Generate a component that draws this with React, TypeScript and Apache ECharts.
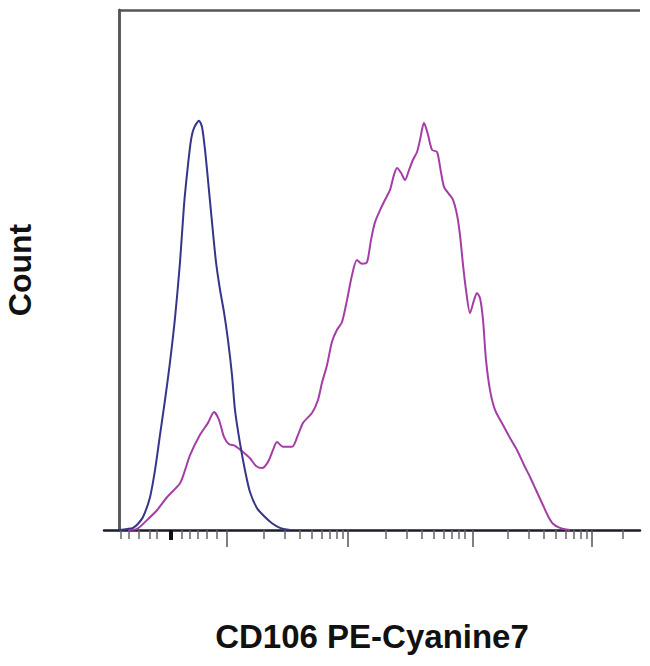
import React, { useEffect, useRef } from "react";
import * as echarts from "echarts";

// Isotype control histogram (channel position, relative count)
const isotypeChannel = [0, 15.4, 26.9, 36.5, 46.1, 59.5, 69.1, 78.7, 88.3, 97.9, 107.5, 117.1, 124.8, 132.4, 138.2, 143.9, 153.6, 159.3, 165.1, 170.8, 178.5, 186.2, 193.9, 201.5, 209.2, 216.9, 222.6, 232.2, 241.8, 251.4, 264.9, 280.2, 293.7, 309.0, 328.2];
const isotypeCount = [0, 0.2, 0.4, 1.2, 2.5, 6.3, 11.5, 18.3, 25.0, 32.3, 40.8, 51.5, 62.5, 70.2, 75.0, 77.3, 78.7, 77.5, 73.1, 67.3, 59.2, 51.5, 46.2, 41.9, 36.5, 29.8, 23.1, 16.7, 11.5, 7.3, 4.2, 2.5, 1.3, 0.4, 0];

// CD106 PE-Cyanine7 stained histogram
const cd106Channel = [17.3, 34.5, 53.7, 72.9, 92.1, 117.1, 126.7, 136.3, 155.5, 170.8, 182.3, 191.9, 201.5, 211.1, 222.6, 238.0, 251.4, 263.0, 274.5, 286.0, 295.6, 303.3, 314.8, 332.1, 343.6, 353.2, 370.4, 381.9, 389.6, 399.2, 408.8, 418.4, 428.0, 437.6, 447.2, 456.8, 466.4, 476.0, 483.7, 491.4, 501.0, 510.6, 520.2, 527.8, 533.6, 541.3, 549.0, 556.6, 564.3, 572.0, 577.7, 585.4, 593.1, 600.8, 610.4, 618.0, 623.8, 633.4, 641.1, 648.8, 654.5, 660.3, 666.0, 673.7, 681.4, 687.1, 692.9, 698.7, 704.4, 712.1, 721.7, 737.0, 750.5, 763.9, 777.4, 788.9, 800.4, 811.9, 823.4, 833.0, 846.4, 865.6];
const cd106Count = [0, 0.2, 1.9, 3.8, 6.3, 9.0, 11.5, 14.4, 18.3, 20.6, 22.7, 21.2, 17.9, 16.5, 16.2, 15.0, 13.8, 12.3, 11.9, 13.1, 15.4, 16.9, 16.0, 16.0, 18.3, 20.6, 22.5, 25.0, 28.3, 31.7, 36.2, 38.5, 40.0, 44.2, 49.0, 51.9, 51.2, 51.5, 55.8, 59.2, 61.5, 63.5, 65.4, 68.3, 69.6, 68.7, 67.3, 69.2, 71.2, 72.7, 75.0, 78.3, 76.0, 73.1, 72.7, 68.8, 66.0, 64.6, 63.5, 60.6, 56.7, 51.0, 46.2, 41.7, 44.2, 45.6, 44.6, 40.4, 32.7, 26.9, 23.1, 20.2, 17.7, 15.4, 12.5, 10.2, 7.7, 5.2, 2.7, 1.2, 0.4, 0];

// Axis tick positions (channel units)
const minorTicks = [3.8, 19.2, 38.4, 59.5, 72.9, 120.9, 136.3, 151.6, 168.9, 188.1, 278.3, 318.6, 347.4, 370.4, 389.6, 405.0, 418.4, 429.9, 512.5, 552.8, 581.6, 604.6, 623.8, 639.2, 652.6, 664.1, 746.6, 786.9, 815.7, 838.8, 858.0, 873.3, 886.8, 898.3, 967.4];
const majorTicks = [207.3, 439.5, 679.5, 907.9];
const zeroTick = [99.8];

const X_MIN = -28.8;
const X_MAX = 1000;
const Y_MAX = 100;

const xTitle = "CD106 PE-Cyanine7";
const yTitle = "Count";

export default function App() {
  const ref = useRef<HTMLDivElement>(null);
  useEffect(() => {
    if (!ref.current) return;
    const chart = echarts.init(ref.current, undefined, { renderer: "svg" });
    const fontFamily = "Liberation Sans, Arial, sans-serif";
    const tickAxis = (vals: number[], len: number, width: number, color: string) => ({
      type: "value",
      min: X_MIN,
      max: X_MAX,
      position: "bottom",
      axisLine: { show: false },
      axisTick: { show: true, customValues: vals, length: len, lineStyle: { color, width } },
      axisLabel: { show: false },
      splitLine: { show: false },
    });
    chart.setOption({
      animation: false,
      backgroundColor: "#ffffff",
      grid: { left: 104, right: 10, top: 10, bottom: 136, containLabel: false, outerBoundsMode: "none" },
      xAxis: [
        {
          type: "value",
          min: X_MIN,
          max: X_MAX,
          position: "bottom",
          name: xTitle,
          nameLocation: "middle",
          nameGap: 90,
          nameTextStyle: { fontFamily, fontSize: 33, fontWeight: "bold", color: "#111" },
          axisLine: { show: true, onZero: false, lineStyle: { color: "#1d1b2c", width: 2.5 } },
          axisTick: { show: true, customValues: minorTicks, length: 9, lineStyle: { color: "#666", width: 1.5 } },
          axisLabel: { show: false },
          splitLine: { show: false },
        },
        tickAxis(majorTicks, 17, 1.5, "#555"),
        tickAxis(zeroTick, 10, 4, "#111"),
      ],
      yAxis: [
        {
          type: "value",
          min: 0,
          max: Y_MAX,
          position: "left",
          name: yTitle,
          nameLocation: "middle",
          nameGap: 68,
          nameRotate: 90,
          nameTextStyle: { fontFamily, fontSize: 32, fontWeight: "bold", color: "#111" },
          axisLine: { show: true, onZero: true, onZeroAxisIndex: 0, lineStyle: { color: "#555", width: 2.5 } },
          axisTick: { show: false },
          axisLabel: { show: false },
          splitLine: { show: false },
        },
        {
          type: "value",
          min: 0,
          max: Y_MAX,
          position: "right",
          axisLine: { show: true, lineStyle: { color: "#555", width: 2.5 } },
          axisTick: { show: false },
          axisLabel: { show: false },
          splitLine: { show: false },
        },
      ],
      series: [
        {
          type: "line",
          name: "CD106",
          data: cd106Channel.map((x, i) => [x, cd106Count[i]]),
          showSymbol: false,
          smooth: 0.25,
          lineStyle: { color: "#a43ea6", width: 2 },
          z: 3,
        },
        {
          type: "line",
          name: "Isotype",
          data: isotypeChannel.map((x, i) => [x, isotypeCount[i]]),
          showSymbol: false,
          smooth: 0.25,
          lineStyle: { color: "#35358a", width: 2 },
          z: 4,
          markLine: {
            silent: true,
            symbol: "none",
            label: { show: false },
            lineStyle: { color: "#555", width: 2.5, type: "solid" },
            data: [[{ coord: [0, Y_MAX] }, { coord: [X_MAX, Y_MAX] }]],
          },
        },
      ],
    });
    return () => chart.dispose();
  }, []);
  return <div ref={ref} style={{ width: 650, height: 666, margin: -8 }} />;
}
